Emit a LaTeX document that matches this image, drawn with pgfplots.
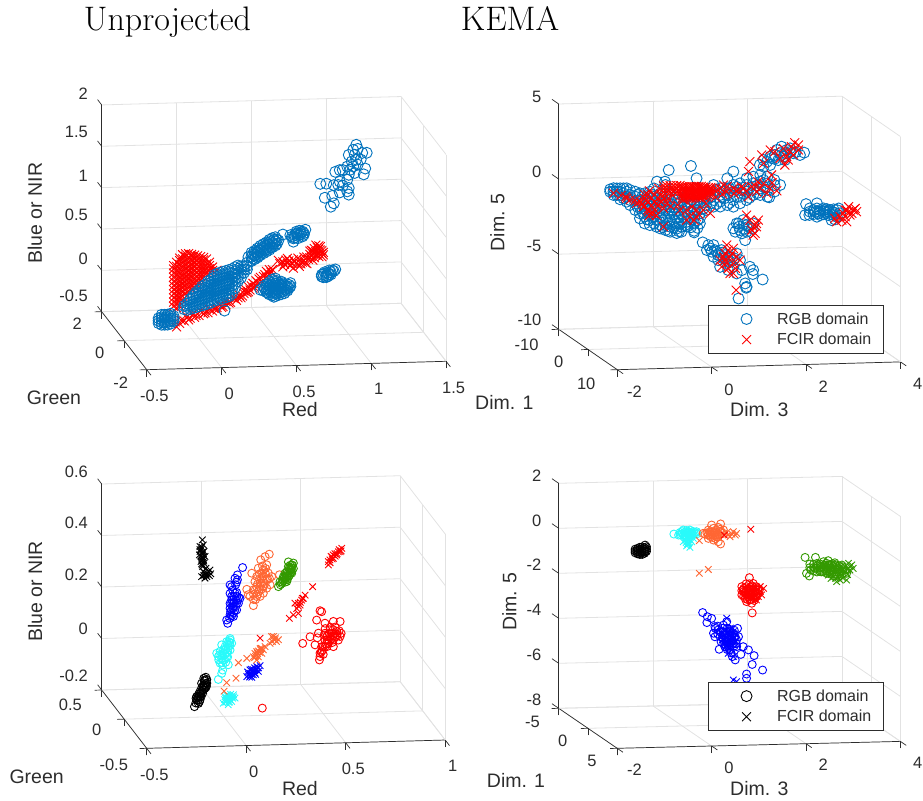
\documentclass[border=0pt]{standalone}
\usepackage{fontspec}
\setsansfont{Liberation Sans}
\usepackage{pgfplots}
\pgfplotsset{compat=1.18}
\definecolor{mblue}{RGB}{0,114,189}
\definecolor{mgrid}{RGB}{226,226,226}
\definecolor{mtxt}{RGB}{45,45,45}
\definecolor{morange}{RGB}{255,102,51}
\definecolor{mgreen}{RGB}{51,153,0}
\definecolor{mcyan}{RGB}{40,250,250}
\pgfplotsset{m3d/.style={clip=false,grid=major,grid style={mgrid,line width=0.8pt},
 axis x line*=bottom,axis y line*=left,axis z line*=left,
 axis line style={mtxt,line width=0.7pt},
 tick style={mtxt,line width=0.7pt},major tick length=7pt,tick align=outside,z tick style={draw=none},
 /pgf/number format/assume math mode=true,
 tick label style={font=\fontsize{16.5}{18}\selectfont\sffamily,text=mtxt},
 label style={font=\fontsize{19.5}{20}\selectfont\sffamily,text=mtxt,anchor=center},
 unbounded coords=jump,
 legend style={font=\fontsize{16}{18}\selectfont\sffamily,text=mtxt,draw=mtxt,line width=0.8pt,anchor=north west,inner xsep=10pt,inner ysep=5pt,row sep=3.5pt,legend cell align=left},
 legend image code/.code={\path (0pt,0pt) (56pt,0pt);\draw[mark repeat=2,mark phase=2,##1] plot coordinates {(15pt,0pt)(28pt,0pt)(40pt,0pt)};}
 },
 ax/.style={forget plot,mtxt,line width=0.7pt,no markers},
 oA/.style={only marks,mark=o,mark size=5.5pt,line width=0.9pt,forget plot},
 xA/.style={only marks,mark=x,mark size=6.3pt,line width=0.9pt,forget plot},
 oB/.style={only marks,mark=o,mark size=4pt,line width=0.9pt,forget plot},
 xB/.style={only marks,mark=x,mark size=4.6pt,line width=0.9pt,forget plot}}
\begin{document}
\begin{tikzpicture}[x=1pt,y=1pt]
\path[use as bounding box] (0,0) rectangle (923,800);
\node[font=\fontsize{34}{36}\selectfont,anchor=base] at (167.5,769) {Unprojected};
\node[font=\fontsize{34}{36}\selectfont,anchor=base] at (510,769) {KEMA};
% ---------- top left
\begin{axis}[m3d,at={(199.05pt,502.75pt)},anchor=origin,
 x={(149.7pt,4.2pt)},y={(-11.25pt,14.5pt)},z={(0pt,82.7pt)},
 xmin=-0.5,xmax=1.5,ymin=-2,ymax=2,zmin=-0.5,zmax=2,
 xtick={-0.5,0,0.5,1,1.5},ytick={-2,0,2},ztick={-0.5,0,0.5,1,1.5,2},
 xticklabel style={yshift=-11pt},yticklabel style={xshift=-9pt,yshift=-3pt},zticklabel style={xshift=-6pt,yshift=2pt},
 xlabel={Red},ylabel={Green},zlabel={Blue or NIR},
 x label style={at={(axis cs:0.674,0,-1.398)}},
 y label style={at={(axis cs:-0.969,0,-1.161)}},
 z label style={at={(axis cs:-1.096,0,1.071)}}]
\addplot3[ax] coordinates {(-0.5,2,-0.5)(-0.5,2,2)};
\addplot3[ax] coordinates {(-0.5,2,-0.5)(-0.5,2.37,-0.5)(nan,nan,nan)(-0.5,2,0)(-0.5,2.37,0)(nan,nan,nan)(-0.5,2,0.5)(-0.5,2.37,0.5)(nan,nan,nan)(-0.5,2,1)(-0.5,2.37,1)(nan,nan,nan)(-0.5,2,1.5)(-0.5,2.37,1.5)(nan,nan,nan)(-0.5,2,2)(-0.5,2.37,2)};
\addplot3[xA,red] coordinates {
(-0.17,0,-0.10)(-0.17,0,-0.05)(-0.17,0,0)(-0.17,0,0.05)(-0.17,0,0.1)(-0.17,0,0.15)(-0.17,0,0.2)(-0.17,0,0.25)(-0.17,0,0.3)(-0.17,0,0.35)(-0.17,0,0.39)
(-0.15,0,-0.12)(-0.15,0,-0.07)(-0.15,0,-0.02)(-0.15,0,0.03)(-0.15,0,0.08)(-0.15,0,0.13)(-0.15,0,0.18)(-0.15,0,0.23)(-0.15,0,0.28)(-0.15,0,0.33)(-0.15,0,0.38)(-0.15,0,0.43)
(-0.13,0,-0.1)(-0.13,0,-0.05)(-0.13,0,0)(-0.13,0,0.05)(-0.13,0,0.1)(-0.13,0,0.15)(-0.13,0,0.2)(-0.13,0,0.25)(-0.13,0,0.3)(-0.13,0,0.35)(-0.13,0,0.4)(-0.13,0,0.45)(-0.13,0,0.48)
(-0.11,0,-0.03)(-0.11,0,0.02)(-0.11,0,0.07)(-0.11,0,0.12)(-0.11,0,0.17)(-0.11,0,0.22)(-0.11,0,0.27)(-0.11,0,0.32)(-0.11,0,0.37)(-0.11,0,0.42)(-0.11,0,0.47)(-0.11,0,0.52)
(-0.09,0,0.05)(-0.09,0,0.1)(-0.09,0,0.15)(-0.09,0,0.2)(-0.09,0,0.25)(-0.09,0,0.3)(-0.09,0,0.35)(-0.09,0,0.4)(-0.09,0,0.45)(-0.09,0,0.5)(-0.09,0,0.53)
(-0.07,0,0.08)(-0.07,0,0.13)(-0.07,0,0.18)(-0.07,0,0.23)(-0.07,0,0.28)(-0.07,0,0.33)(-0.07,0,0.38)(-0.07,0,0.43)(-0.07,0,0.48)(-0.07,0,0.53)
(-0.05,0,0.1)(-0.05,0,0.15)(-0.05,0,0.2)(-0.05,0,0.25)(-0.05,0,0.3)(-0.05,0,0.35)(-0.05,0,0.4)(-0.05,0,0.45)(-0.05,0,0.5)(-0.05,0,0.52)
(-0.03,0,0.12)(-0.03,0,0.17)(-0.03,0,0.22)(-0.03,0,0.27)(-0.03,0,0.32)(-0.03,0,0.37)(-0.03,0,0.42)(-0.03,0,0.47)(-0.03,0,0.51)
(-0.01,0,0.15)(-0.01,0,0.2)(-0.01,0,0.25)(-0.01,0,0.3)(-0.01,0,0.35)(-0.01,0,0.4)(-0.01,0,0.45)(-0.01,0,0.5)
(0.01,0,0.2)(0.01,0,0.25)(0.01,0,0.3)(0.01,0,0.35)(0.01,0,0.4)(0.01,0,0.45)(0.01,0,0.49)
(0.03,0,0.25)(0.03,0,0.3)(0.03,0,0.35)(0.03,0,0.4)(0.03,0,0.45)(0.03,0,0.48)
(0.05,0,0.3)(0.05,0,0.35)(0.05,0,0.4)(0.05,0,0.46)(0.07,0,0.3)(0.07,0,0.34)(0.07,0,0.38)(0.07,0,0.42)(0.09,0,0.32)(0.09,0,0.36)(0.12,0,0.32)
(-0.16,0,-0.29)(-0.15,0,-0.35)(-0.12,0,-0.27)(-0.08,0,-0.23)(-0.04,0,-0.2)(-0.06,0,-0.25)(-0.02,0,-0.22)(0.01,0,-0.17)(0.04,0,-0.19)(0.07,0,-0.15)(0.10,0,-0.14)(0.12,0,-0.16)(0.14,0,-0.1)(0.16,0,-0.12)(0.18,0,-0.06)(0.2,0,-0.08)(0.23,0,-0.02)(0.25,0,-0.05)(0.27,0,0.01)(0.28,0,-0.02)(0.3,0,0.03)(0.31,0,0.08)(0.32,0,0.04)(0.33,0,0.11)(0.34,0,0.07)(0.36,0,0.15)(0.36,0,0.09)(0.38,0,0.12)(0.38,0,0.18)(0.4,0,0.2)(0.4,0,0.14)(0.42,0,0.17)(0.43,0,0.23)(0.45,0,0.29)(0.45,0,0.22)(0.47,0,0.31)(0.47,0,0.25)(0.49,0,0.31)
(0.53,0,0.42)(0.56,0,0.34)(0.56,0,0.4)(0.59,0,0.38)(0.59,0,0.44)(0.61,0,0.35)(0.63,0,0.42)(0.63,0,0.32)(0.65,0,0.38)(0.67,0,0.34)(0.67,0,0.42)(0.69,0,0.39)(0.7,0,0.45)(0.72,0,0.37)(0.72,0,0.45)(0.74,0,0.52)(0.74,0,0.44)(0.76,0,0.41)(0.76,0,0.49)(0.78,0,0.59)(0.78,0,0.51)(0.79,0,0.47)(0.8,0,0.45)(0.8,0,0.54)(0.81,0,0.53)(0.81,0,0.57)(0.82,0,0.45)(0.82,0,0.49)(0.77,0,0.55)(0.74,0,0.48)
(-0.13,0,-0.31)(-0.1,0,-0.28)(-0.07,0,-0.27)(-0.03,0,-0.24)(0,0,-0.22)(0.03,0,-0.2)(0.06,0,-0.19)(0.09,0,-0.17)(0.12,0,-0.13)(0.15,0,-0.13)(0.18,0,-0.1)(0.21,0,-0.07)(0.24,0,-0.03)(0.26,0,-0.02)(0.29,0,0)(0.3,0,0.06)(0.33,0,0.05)(0.35,0,0.12)(0.37,0,0.1)(0.39,0,0.16)(0.41,0,0.22)(0.44,0,0.25)(0.46,0,0.27)(0.48,0,0.28)
(0.54,0,0.38)(0.57,0,0.37)(0.58,0,0.42)(0.6,0,0.41)(0.62,0,0.38)(0.64,0,0.4)(0.66,0,0.44)(0.66,0,0.36)(0.68,0,0.37)(0.7,0,0.41)(0.71,0,0.38)(0.73,0,0.42)(0.75,0,0.46)(0.77,0,0.44)(0.75,0,0.53)(0.77,0,0.5)(0.78,0,0.47)(0.79,0,0.52)(0.8,0,0.49)(0.8,0,0.58)(0.79,0,0.56)(0.82,0,0.52)(0.83,0,0.5)(0.83,0,0.47)(0.76,0,0.52)};
\addplot3[oA,mblue] coordinates {
(1.05,0,1.79)(1.03,0,1.73)(1.06,0,1.74)(1.12,0,1.69)(1.09,0,1.69)(1.04,0,1.67)(1,0,1.67)(1.05,0,1.61)(1.02,0,1.59)(1.08,0,1.61)(0.99,0,1.53)(1.03,0,1.53)(1.06,0,1.55)(1.1,0,1.43)(1.11,0,1.5)(1.04,0,1.45)(1.01,0,1.49)(0.96,0,1.49)(0.94,0,1.49)(0.91,0,1.47)(1,0,1.43)(0.94,0,1.35)(0.99,0,1.37)(0.96,0,1.3)(1,0,1.27)(0.93,0,1.31)(1,0,1.19)(0.99,0,1.23)(0.94,0,1.22)(0.81,0,1.33)(0.85,0,1.33)(0.9,0,1.31)(0.84,0,1.16)(0.89,0,1.18)(0.9,0,1.09)(0.88,0,1.05)
(0.82,0,0.21)(0.83,0,0.24)(0.85,0,0.22)(0.84,0,0.26)(0.86,0,0.25)(0.87,0,0.23)(0.88,0,0.26)(0.89,0,0.28)(0.9,0,0.27)(0.91,0,0.29)(0.87,0,0.28)(0.85,0,0.2)(0.83,0,0.2)(0.86,0,0.21)(0.88,0,0.23)(0.82,0,0.23)
(0.71,0,0.78)(0.69,0,0.76)(0.65,0,0.74)(0.63,0,0.68)(0.64,0,0.72)(0.67,0,0.72)(0.7,0,0.74)(0.66,0,0.68)(0.69,0,0.7)(0.63,0,0.64)(0.61,0,0.72)(0.56,0,0.73)(0.65,0,0.76)(0.67,0,0.77)(0.62,0,0.7)(0.66,0,0.71)(0.68,0,0.73)(0.66,0,0.74)(0.64,0,0.69)(0.68,0,0.75)(0.7,0,0.72)
(0.33,0,0.47)(0.35,0,0.42)(0.35,0,0.47)(0.35,0,0.52)(0.37,0,0.44)(0.37,0,0.49)(0.37,0,0.54)(0.39,0,0.46)(0.39,0,0.52)(0.39,0,0.57)(0.41,0,0.49)(0.41,0,0.54)(0.41,0,0.6)(0.43,0,0.51)(0.43,0,0.56)(0.43,0,0.62)(0.45,0,0.53)(0.45,0,0.58)(0.45,0,0.64)(0.47,0,0.55)(0.47,0,0.61)(0.47,0,0.67)(0.49,0,0.58)(0.49,0,0.63)(0.49,0,0.69)(0.51,0,0.6)(0.51,0,0.65)(0.51,0,0.7)(0.52,0,0.62)(0.52,0,0.67)(0.53,0,0.66)(0.36,0,0.45)(0.36,0,0.5)(0.38,0,0.47)(0.38,0,0.53)(0.4,0,0.48)(0.4,0,0.55)(0.42,0,0.52)(0.42,0,0.58)(0.44,0,0.54)(0.44,0,0.6)(0.46,0,0.56)(0.46,0,0.63)(0.48,0,0.58)(0.48,0,0.65)(0.5,0,0.62)(0.5,0,0.67)
(0.41,0,0.07)(0.45,0,0.09)(0.45,0,0.04)(0.45,0,0.13)(0.47,0,0.01)(0.47,0,0.06)(0.47,0,0.11)(0.47,0,0.16)(0.49,0,0)(0.49,0,0.05)(0.49,0,0.1)(0.49,0,0.15)(0.49,0,0.19)(0.51,0,-0.01)(0.51,0,0.04)(0.51,0,0.09)(0.51,0,0.14)(0.51,0,0.2)(0.53,0,0)(0.53,0,0.05)(0.53,0,0.1)(0.53,0,0.15)(0.55,0,0.01)(0.55,0,0.06)(0.55,0,0.11)(0.55,0,0.16)(0.57,0,0.02)(0.57,0,0.07)(0.57,0,0.12)(0.59,0,0.05)(0.59,0,0.1)(0.61,0,0.1)(0.61,0,0.14)(0.43,0,0.06)(0.43,0,0.11)(0.5,0,-0.02)
(0.44,0,0.08)(0.46,0,0.08)(0.46,0,0.03)(0.46,0,0.13)(0.48,0,0.03)(0.48,0,0.08)(0.48,0,0.13)(0.5,0,0.03)(0.5,0,0.08)(0.5,0,0.12)(0.5,0,0.17)(0.52,0,0.02)(0.52,0,0.07)(0.52,0,0.12)(0.52,0,0.17)(0.54,0,0.03)(0.54,0,0.08)(0.54,0,0.13)(0.56,0,0.04)(0.56,0,0.09)(0.56,0,0.14)(0.58,0,0.06)(0.58,0,0.11)(0.6,0,0.08)(0.6,0,0.12)
(-0.27,0,-0.3)(-0.27,0,-0.27)(-0.27,0,-0.24)(-0.25,0,-0.32)(-0.25,0,-0.29)(-0.25,0,-0.26)(-0.25,0,-0.23)(-0.25,0,-0.2)(-0.23,0,-0.32)(-0.23,0,-0.29)(-0.23,0,-0.26)(-0.23,0,-0.23)(-0.23,0,-0.2)(-0.21,0,-0.32)(-0.21,0,-0.29)(-0.21,0,-0.26)(-0.21,0,-0.23)(-0.21,0,-0.2)(-0.19,0,-0.31)(-0.19,0,-0.28)(-0.19,0,-0.25)(-0.19,0,-0.22)(-0.19,0,-0.19)(-0.17,0,-0.28)(-0.17,0,-0.25)(-0.17,0,-0.22)
(-0.1,0,-0.14)(-0.1,0,-0.1)(-0.08,0,-0.15)(-0.08,0,-0.11)(-0.08,0,-0.07)(-0.06,0,-0.14)(-0.06,0,-0.1)(-0.06,0,-0.06)(-0.06,0,-0.02)(-0.04,0,-0.13)(-0.04,0,-0.09)(-0.04,0,-0.05)(-0.04,0,-0.01)(-0.04,0,0.02)(-0.02,0,-0.12)(-0.02,0,-0.08)(-0.02,0,-0.04)(-0.02,0,0)(-0.02,0,0.04)(-0.02,0,0.06)
(0,0,-0.11)(0,0,-0.07)(0,0,-0.03)(0,0,0.01)(0,0,0.05)(0,0,0.09)(0.02,0,-0.1)(0.02,0,-0.06)(0.02,0,-0.02)(0.02,0,0.02)(0.02,0,0.06)(0.02,0,0.1)(0.02,0,0.13)(0.04,0,-0.09)(0.04,0,-0.05)(0.04,0,-0.01)(0.04,0,0.03)(0.04,0,0.07)(0.04,0,0.11)(0.04,0,0.15)
(0.06,0,-0.08)(0.06,0,-0.04)(0.06,0,0)(0.06,0,0.04)(0.06,0,0.08)(0.06,0,0.12)(0.06,0,0.16)(0.06,0,0.19)(0.08,0,-0.07)(0.08,0,-0.03)(0.08,0,0.01)(0.08,0,0.05)(0.08,0,0.09)(0.08,0,0.13)(0.08,0,0.17)(0.08,0,0.21)
(0.1,0,-0.05)(0.1,0,-0.01)(0.1,0,0.03)(0.1,0,0.07)(0.1,0,0.11)(0.1,0,0.15)(0.1,0,0.19)(0.1,0,0.23)(0.1,0,0.26)(0.12,0,-0.04)(0.12,0,0)(0.12,0,0.04)(0.12,0,0.08)(0.12,0,0.12)(0.12,0,0.16)(0.12,0,0.2)(0.12,0,0.24)(0.12,0,0.28)
(0.14,0,-0.03)(0.14,0,0.01)(0.14,0,0.05)(0.14,0,0.09)(0.14,0,0.13)(0.14,0,0.17)(0.14,0,0.21)(0.14,0,0.25)(0.14,0,0.29)(0.16,0,-0.02)(0.16,0,0.02)(0.16,0,0.06)(0.16,0,0.1)(0.16,0,0.14)(0.16,0,0.18)(0.16,0,0.22)(0.16,0,0.26)(0.16,0,0.3)
(0.18,0,-0.01)(0.18,0,0.03)(0.18,0,0.07)(0.18,0,0.11)(0.18,0,0.15)(0.18,0,0.19)(0.18,0,0.23)(0.18,0,0.27)(0.18,0,0.31)(0.2,0,0)(0.2,0,0.04)(0.2,0,0.08)(0.2,0,0.12)(0.2,0,0.16)(0.2,0,0.2)(0.2,0,0.24)(0.2,0,0.28)(0.2,0,0.32)
(0.22,0,0.03)(0.22,0,0.08)(0.22,0,0.13)(0.22,0,0.18)(0.22,0,0.23)(0.22,0,0.28)(0.22,0,0.33)(0.24,0,0.1)(0.24,0,0.15)(0.24,0,0.2)(0.24,0,0.25)(0.24,0,0.3)(0.24,0,0.35)(0.26,0,0.18)(0.26,0,0.23)(0.26,0,0.28)(0.26,0,0.33)(0.26,0,0.37)(0.28,0,0.22)(0.28,0,0.27)(0.28,0,0.32)(0.28,0,0.36)(0.3,0,0.28)(0.3,0,0.32)(0.3,0,0.36)(0.32,0,0.32)(0.32,0,0.36)(0.32,0,0.4)(0.17,0,-0.17)};
\end{axis}
% ---------- top right
\begin{axis}[m3d,at={(682.4pt,603.3pt)},anchor=origin,
 y dir=reverse,x={(47.2pt,1.3pt)},y={(-2.93pt,2.02pt)},z={(0pt,15.02pt)},
 xmin=-2,xmax=4,ymin=-10,ymax=10,zmin=-10,zmax=5,
 xtick={-2,0,2,4},ytick={-10,0,10},ztick={-10,-5,0,5},
 xticklabel style={xshift=6.5pt,yshift=-9pt},yticklabel style={xshift=-13.5pt,yshift=-3.5pt},zticklabel style={xshift=-8pt,yshift=1pt},
 xlabel={Dim. 3},ylabel={Dim. 1},zlabel={Dim. 5},
 x label style={at={(axis cs:1.629,0,-14.34)}},
 y label style={at={(axis cs:-3.773,0,-13.36)}},
 z label style={at={(axis cs:-3.922,0,-1.365)}},
 legend style={at={(axis cs:0.536,0,-7.26)}}]
\addplot3[ax] coordinates {(-2,-10,-10)(-2,-10,5)};
\addplot3[ax] coordinates {(-2,-10,-10)(-2,-12.3,-10)(nan,nan,nan)(-2,-10,-5)(-2,-12.3,-5)(nan,nan,nan)(-2,-10,0)(-2,-12.3,0)(nan,nan,nan)(-2,-10,5)(-2,-12.3,5)};
\addplot3[oA,mblue] coordinates {
(2.78,0,-1.13)(2.85,0,-1.03)(2.92,0,-1.14)(2.99,0,-1.04)(3.06,0,-1.09)(3.13,0,-1.16)(3.2,0,-1.12)(3.27,0,-1.17)(3.31,0,-1.07)(2.88,0,-1.36)(2.99,0,-1.42)(3.09,0,-1.49)(3.2,0,-1.5)(3.27,0,-1.62)(3.34,0,-1.4)(3.16,0,-1.83)(3.23,0,-1.79)(2.78,0,-1.4)(2.7,0,-1.23)(2.92,0,-1.48)(3.02,0,-1.26)(3.13,0,-1.43)(3.23,0,-1.35)(2.85,0,-1.58)(2.62,0,-0.72)(2.85,0,-0.69)(2.69,0,-1.45)(2.7,0,-1.01)(2.6,0,-1.45)(2.9,0,-1.25)(3,0,-1.15)(3.1,0,-1.25)(3.18,0,-1.3)(2.82,0,-1.25)(3.05,0,-1.35)
(1.72,0,2.29)(1.86,0,2.51)(2,0,2.94)(2.1,0,3.15)(2.21,0,2.92)(2.35,0,2.69)(2.49,0,2.56)(2.58,0,2.71)(1.89,0,2.4)(2.14,0,2.48)(1.72,0,1.85)(1.86,0,1.95)(1.96,0,2.61)(2.07,0,2.71)(2.28,0,3.02)(2.03,0,2.26)(2.17,0,2.25)(1.79,0,2.17)(1.64,0,1.97)(2.2,0,2.7)(2.3,0,2.8)(2.4,0,2.75)(2.1,0,2.6)(1.95,0,2.35)
(-1.53,0,0.62)(-1.53,0,0.46)(-1.46,0,0.69)(-1.46,0,0.46)(-1.46,0,0.24)(-1.39,0,0.67)(-1.39,0,0.45)(-1.39,0,0.23)(-1.32,0,0.67)(-1.32,0,0.44)(-1.32,0,0.22)(-1.32,0,-0.06)(-1.25,0,0.66)(-1.25,0,0.33)(-1.25,0,0)(-1.18,0,0.66)(-1.18,0,0.44)(-1.18,0,0.1)(-1.18,0,-0.23)(-1.11,0,0.54)(-1.11,0,0.21)(-1.11,0,-0.13)(-1.11,0,-0.46)(-1,0,0.42)(-1,0,0.09)(-1,0,-0.36)(-1,0,-0.8)(-0.9,0,0.3)(-0.9,0,-0.14)(-0.9,0,-0.59)(-0.9,0,-1.03)(-0.9,0,-1.37)(-0.8,0,0.29)(-0.8,0,-0.15)(-0.8,0,-0.71)(-0.8,0,-1.26)(-0.8,0,-1.71)(-0.69,0,0.39)(-0.69,0,-0.05)(-0.69,0,-0.61)(-0.69,0,-1.05)(-0.69,0,-1.5)(-0.69,0,-1.83)(-0.6,0,0.6)(-0.6,0,0.05)(-0.6,0,-0.39)(-0.6,0,-0.84)(-0.6,0,-1.28)(-0.6,0,-1.73)(-0.47,0,0.26)(-0.47,0,-0.18)(-0.47,0,-0.74)(-0.47,0,-1.29)(-0.47,0,-1.84)(-0.47,0,-2.07)(-0.36,0,0.81)(-0.36,0,0.25)(-0.36,0,-0.3)(-0.36,0,-0.86)(-0.36,0,-1.41)(-0.36,0,-1.86)(-0.36,0,-2.19)(-0.26,0,0.24)(-0.26,0,-0.2)(-0.26,0,-0.65)(-0.26,0,-1.09)(-0.26,0,-1.53)(-0.26,0,-1.98)(-0.26,0,-2.31)(-0.12,0,-0.01)(-0.12,0,-0.45)(-0.12,0,-0.9)(-0.12,0,-1.34)(-0.12,0,-1.79)(-0.12,0,-2.12)(-0.12,0,-2.41)(-0.02,0,-0.22)(-0.02,0,-0.67)(-0.02,0,-1.11)(-0.02,0,-1.56)(-0.02,0,-2)(-0.02,0,-2.33)(0.1,0,0.1)(0.1,0,-0.34)(0.1,0,-0.78)(0.1,0,-1.23)(0.1,0,-1.67)(0.1,0,-2)(0.25,0,-0.02)(0.25,0,-0.46)(0.25,0,-0.91)(0.25,0,-1.36)(0.25,0,-1.8)(0.25,0,-2.29)(0.25,0,-2.4)(0.37,0,0.19)(0.37,0,-0.25)(0.37,0,-0.7)(0.37,0,-1.14)(0.37,0,-1.47)(0.37,0,-1.81)(0.5,0,0.29)(0.5,0,-0.15)(0.5,0,-0.6)(0.5,0,-0.93)(0.66,0,0.72)(0.66,0,0.16)(0.66,0,-0.28)(0.66,0,-0.72)(0.8,0,0.49)(0.8,0,0.04)(0.8,0,-0.4)(0.8,0,-0.73)(0.95,0,1.14)(0.95,0,0.47)(0.95,0,0.03)(0.95,0,-0.64)(1.08,0,1.58)(1.08,0,0.69)(1.08,0,0.24)(1.08,0,-0.31)(1.08,0,-0.76)(1.22,0,0.78)(1.22,0,0.34)(1.22,0,-0.11)(1.22,0,-0.55)(1.36,0,1.1)(1.36,0,0.66)(1.36,0,0.22)(1.36,0,-0.34)(1.5,0,1.2)(1.5,0,0.76)(1.5,0,0.31)(1.5,0,-0.02)(1.65,0,1.3)(1.65,0,0.86)(1.65,0,0.41)(1.65,0,-0.03)(1.8,0,1.17)(1.8,0,0.73)(1.8,0,0.29)(1.8,0,-0.16)(1.95,0,0.94)(1.95,0,0.61)(1.95,0,0.17)(2.07,0,0.6)(1.84,0,-0.2)
(-0.95,0,0.2)(-0.95,0,-0.2)(-0.95,0,-0.6)(-0.85,0,0.1)(-0.85,0,-0.4)(-0.85,0,-0.95)(-0.75,0,0.1)(-0.75,0,-0.4)(-0.75,0,-0.95)(-0.75,0,-1.45)(-0.65,0,0.2)(-0.65,0,-0.25)(-0.65,0,-0.8)(-0.65,0,-1.3)(-0.55,0,-0.1)(-0.55,0,-0.55)(-0.55,0,-1.05)(-0.55,0,-1.5)(-0.55,0,-1.95)(-0.42,0,0)(-0.42,0,-0.5)(-0.42,0,-1)(-0.42,0,-1.55)(-0.42,0,-2)(-0.3,0,0)(-0.3,0,-0.45)(-0.3,0,-0.9)(-0.3,0,-1.3)(-0.3,0,-1.75)(-0.3,0,-2.25)(-0.18,0,-0.2)(-0.18,0,-0.7)(-0.18,0,-1.15)(-0.18,0,-1.6)(-0.18,0,-2.05)(-0.07,0,-0.4)(-0.07,0,-0.9)(-0.07,0,-1.35)(-0.07,0,-1.8)(-0.07,0,-2.3)(0.05,0,-0.1)(0.05,0,-0.55)(0.05,0,-1)(0.05,0,-1.45)(0.05,0,-1.9)(0.18,0,-0.2)(0.18,0,-0.6)(0.18,0,-1.1)(0.18,0,-1.55)(0.18,0,-2.05)(0.32,0,-0.45)(0.32,0,-0.95)(0.32,0,-1.6)(0.32,0,-2.1)(0.45,0,-0.4)(0.45,0,-0.8)(0.6,0,-0.5)(0.6,0,-0.1)(0.72,0,-0.55)(0.72,0,0.4)(0.88,0,-0.2)(0.88,0,0.25)(1,0,-0.5)(1,0,0.45)(1.15,0,-0.1)(1.15,0,0.55)(1.3,0,0.1)(1.3,0,0.5)(1.42,0,-0.2)(1.42,0,0.45)(1.58,0,0.1)(1.58,0,0.6)(1.72,0,0.5)(1.72,0,0.95)
(-0.29,0,1.8)(0.18,0,2.03)(-0.54,0,1.05)(-0.37,0,1.03)(0.3,0,1.2)
(1.08,0,-2.2)(1.15,0,-1.88)(1.36,0,-2.01)(1.22,0,-2.33)(1.36,0,-2.45)(1.5,0,-1.91)(1.33,0,-3.01)(1.19,0,-1.89)(1.29,0,-1.67)(1.12,0,-2.43)(1.4,0,-2.12)(1.26,0,-2.55)(1.47,0,-2.24)(1.3,0,-2.25)(1.2,0,-2.1)(1.3,0,-1.95)
(0.43,0,-3.08)(0.55,0,-3.27)(0.66,0,-3.28)(0.52,0,-3.6)(0.69,0,-3.62)(0.59,0,-3.5)(0.76,0,-3.96)(0.87,0,-4.19)(1.01,0,-4.09)(1.15,0,-3.88)(1.22,0,-4.33)(0.66,0,-4.06)(0.8,0,-4.74)(0.94,0,-4.52)(1.08,0,-4.76)(1.15,0,-5.21)(1.26,0,-5)(1.43,0,-4.79)(1.5,0,-5.02)(1.49,0,-5.28)(1.7,0,-5.66)(1.33,0,-5.89)(1.36,0,-6.12)(1.35,0,-6.18)(1.19,0,-6.88)(0.73,0,-3.73)(0.83,0,-3.63)(0.76,0,-4.29)(1.08,0,-4.32)(0.97,0,-4.97)(0.9,0,-3.97)(0.62,0,-3.72)(0.8,0,-4)(0.95,0,-4.2)(0.85,0,-3.8)(1,0,-4.4)(1.1,0,-4.2)};
\addplot3[xA,red] coordinates {
(3.48,0,-1.19)(3.62,0,-1.2)(3.69,0,-1.32)(3.55,0,-1.53)(3.41,0,-1.4)(3.52,0,-0.97)(3.66,0,-1.1)(3.34,0,-1.62)(3.23,0,-1.72)(3.48,0,-1.97)(3.45,0,-1.63)(3.59,0,-1.42)(3.27,0,-1.95)(3.38,0,-1.85)(3.52,0,-1.31)(3.45,0,-1.19)
(1.43,0,2.21)(1.4,0,1.55)(1.68,0,2.63)(1.86,0,2.95)(1.96,0,2.83)(2.14,0,3.03)(2.38,0,3.39)(2.31,0,3.13)(2.46,0,2.9)(2.21,0,2.48)(2.35,0,2.58)(2.07,0,2.38)(2.17,0,1.92)(1.89,0,1.28)(2.28,0,2.8)(2.46,0,3.23)(2.24,0,2.25)(1.72,0,2.07)
(1.57,0,-1.92)(1.5,0,-2.13)(1.54,0,-2.58)(1.43,0,-1.68)(1.61,0,-1.7)(1.47,0,-2.35)(1.36,0,-1.34)(1.5,0,-2.69)(1.57,0,-2.14)
(0.94,0,-3.3)(1.08,0,-3.54)(0.9,0,-3.86)(1.01,0,-4.09)(0.87,0,-4.08)(1.15,0,-4.1)(0.94,0,-4.52)(0.83,0,-4.74)(1.08,0,-4.54)(1.01,0,-5.2)(1.22,0,-4.33)(0.97,0,-3.64)(1.05,0,-3.87)(0.9,0,-4.3)(1.14,0,-6.32)(0.8,0,-4.29)(0.97,0,-4.86)(1.12,0,-4.87)(1.08,0,-5.2)
(-1.46,0,0.35)(-1.18,0,-0.01)(-0.97,0,-0.36)(-0.83,0,-0.6)(-0.76,0,-0.16)(-0.72,0,-0.94)(-0.61,0,-1.06)(-0.54,0,-0.4)(-0.44,0,0.04)(-0.33,0,-0.41)(-0.33,0,0.36)(-0.19,0,0.57)(0.02,0,-0.22)(0.09,0,-0.9)(0.16,0,-1.35)(0.3,0,-1.36)(0.44,0,-0.93)(0.59,0,-1.16)(-0.4,0,-1.97)(0.09,0,-1.56)
(0,0,0.65)(0,0,0.5)(0,0,0.35)(0,0,0.2)(0,0,0.05)(0,0,-0.1)(0.05,0,0.65)(0.05,0,0.5)(0.05,0,0.35)(0.05,0,0.2)(0.05,0,0.05)(0.05,0,-0.1)(0.1,0,0.65)(0.1,0,0.5)(0.1,0,0.35)(0.1,0,0.2)(0.1,0,0.05)(0.1,0,-0.1)(0.15,0,0.65)(0.15,0,0.5)(0.15,0,0.35)(0.15,0,0.2)(0.15,0,0.05)(0.15,0,-0.1)(0.2,0,0.65)(0.2,0,0.5)(0.2,0,0.35)(0.2,0,0.2)(0.2,0,0.05)(0.2,0,-0.1)(0.25,0,0.65)(0.25,0,0.5)(0.25,0,0.35)(0.25,0,0.2)(0.25,0,0.05)(0.25,0,-0.1)(0.3,0,0.65)(0.3,0,0.5)(0.3,0,0.35)(0.3,0,0.2)(0.3,0,0.05)(0.3,0,-0.1)(0.35,0,0.65)(0.35,0,0.5)(0.35,0,0.35)(0.35,0,0.2)(0.35,0,0.05)(0.35,0,-0.1)(0.4,0,0.65)(0.4,0,0.5)(0.4,0,0.35)(0.4,0,0.2)(0.4,0,0.05)(0.4,0,-0.1)(0.45,0,0.6)(0.45,0,0.45)(0.45,0,0.3)(0.45,0,0.15)(0.45,0,0)(0.5,0,0.6)(0.5,0,0.45)(0.5,0,0.3)(0.5,0,0.15)(0.5,0,0)(0.55,0,0.55)(0.55,0,0.4)(0.55,0,0.25)(0.55,0,0.1)(0.6,0,0.55)(0.6,0,0.4)(0.6,0,0.25)(0.6,0,0.1)
(-0.4,0,0.75)(-0.4,0,0.55)(-0.4,0,0.35)(-0.33,0,0.75)(-0.33,0,0.55)(-0.26,0,0.75)(-0.26,0,0.55)(-0.26,0,0.35)(-0.19,0,0.75)(-0.19,0,0.4)(-0.12,0,0.75)(-0.12,0,0.55)(-0.12,0,0.35)(-0.05,0,0.75)(-0.05,0,0.55)(-0.05,0,0.35)
(0.8,0,0.49)(0.94,0,0.25)(1.08,0,0.46)(1.22,0,0.23)(1.47,0,0.54)(1.57,0,0.2)(1.72,0,0.74)(1.79,0,0.07)(1.4,0,-0.12)(2,0,0.22)(0.87,0,0.7)(1.15,0,0.3)(1.3,0,0.45)(0.7,0,0.3)
(-0.8,0,0.2)(-0.8,0,-0.05)(-0.8,0,-0.55)(-0.73,0,0.2)(-0.73,0,-0.3)(-0.73,0,-0.8)(-0.66,0,-0.05)(-0.66,0,-0.55)(-0.66,0,-1.05)(-0.59,0,0.2)(-0.59,0,-0.3)(-0.59,0,-0.8)(-0.52,0,-0.05)(-0.52,0,-0.55)(-0.45,0,0.2)(-0.45,0,-0.3)(-0.38,0,-0.05)
(-1.3,0,0.2)(-1.2,0,0.1)(-1.1,0,-0.1)(-1,0,-0.15)(-0.9,0,-0.25)(-0.85,0,-0.4)(-0.7,0,-1.2)(-0.55,0,-1.2)(-0.4,0,-0.75)(-0.3,0,-0.1)(-0.25,0,-0.6)(-0.1,0,-0.55)(-0.05,0,-0.9)(0.2,0,-0.7)(0.3,0,-0.9)(0.35,0,-1.2)(0.25,0,-1.6)(0.5,0,-0.5)(0.7,0,-0.1)(0.7,0,0.5)(0.85,0,0.1)(0.95,0,0.6)(1.1,0,0.1)(1.25,0,0.55)(1.35,0,0.25)(1.55,0,0.55)(1.65,0,0.4)(1.85,0,0.4)(1.9,0,0.75)(1.6,0,0.85)(-0.2,0,0.1)(-0.5,0,0.6)(-0.7,0,0.45)
(0.03,0,0.58)(0.13,0,0.58)(0.23,0,0.58)(0.33,0,0.58)(0.08,0,0.28)(0.18,0,0.28)(0.28,0,0.28)(0.38,0,0.28)(0.12,0,0.12)(0.22,0,0.12)(0.32,0,0.12)(0.42,0,0.08)};
\addlegendimage{only marks,mark=o,mark size=5.5pt,line width=0.9pt,mblue}
\addlegendimage{only marks,mark=x,mark size=6.3pt,line width=0.9pt,red}
\legend{RGB domain,FCIR domain}
\end{axis}
% ---------- bottom left
\begin{axis}[m3d,at={(223.7pt,135.1pt)},anchor=origin,
 x={(199pt,5.53pt)},y={(-45pt,58.3pt)},z={(0pt,257.5pt)},
 xmin=-0.5,xmax=1,ymin=-0.5,ymax=0.5,zmin=-0.2,zmax=0.6,
 xtick={-0.5,0,0.5,1},ytick={-0.5,0,0.5},ztick={-0.2,0,0.2,0.4,0.6},
 xticklabel style={yshift=-11pt},yticklabel style={xshift=-12pt,yshift=-2pt},zticklabel style={xshift=-6pt},
 xlabel={Red},ylabel={Green},zlabel={Blue or NIR},
 x label style={at={(axis cs:0.383,0,-0.487)}},
 y label style={at={(axis cs:-0.94,0,-0.414)}},
 z label style={at={(axis cs:-0.948,0,0.305)}}]
\addplot3[ax] coordinates {(-0.5,0.5,-0.2)(-0.5,0.5,0.6)};
\addplot3[ax] coordinates {(-0.5,0.5,-0.2)(-0.5,0.59,-0.2)(nan,nan,nan)(-0.5,0.5,0)(-0.5,0.59,0)(nan,nan,nan)(-0.5,0.5,0.2)(-0.5,0.59,0.2)(nan,nan,nan)(-0.5,0.5,0.4)(-0.5,0.59,0.4)(nan,nan,nan)(-0.5,0.5,0.6)(-0.5,0.59,0.6)};
\addplot3[oB,black] coordinates {(-0.147,0,-0.159)(-0.136,0,-0.133)(-0.127,0,-0.12)(-0.136,0,-0.12)(-0.119,0,-0.101)(-0.111,0,-0.088)(-0.099,0,-0.075)(-0.094,0,-0.056)(-0.085,0,-0.069)(-0.106,0,-0.108)(-0.122,0,-0.14)(-0.102,0,-0.095)(-0.119,0,-0.133)(-0.09,0,-0.046)(-0.127,0,-0.147)(-0.114,0,-0.121)(-0.089,0,-0.085)(-0.111,0,-0.069)(-0.139,0,-0.127)(-0.098,0,-0.06)(-0.14,0,-0.145)(-0.13,0,-0.135)(-0.125,0,-0.11)(-0.115,0,-0.11)(-0.11,0,-0.1)(-0.1,0,-0.085)(-0.095,0,-0.075)(-0.09,0,-0.07)(-0.085,0,-0.055)(-0.105,0,-0.08)(-0.13,0,-0.125)(-0.12,0,-0.12)(-0.095,0,-0.09)(-0.087,0,-0.08)(-0.1,0,-0.05)};
\addplot3[xB,black] coordinates {(-0.107,0,0.488)(-0.119,0,0.462)(-0.102,0,0.468)(-0.119,0,0.443)(-0.099,0,0.443)(-0.11,0,0.423)(-0.122,0,0.43)(-0.094,0,0.423)(-0.114,0,0.404)(-0.099,0,0.397)(-0.106,0,0.384)(-0.089,0,0.377)(-0.077,0,0.364)(-0.069,0,0.37)(-0.102,0,0.364)(-0.111,0,0.345)(-0.089,0,0.352)(-0.072,0,0.348)(-0.094,0,0.339)(-0.065,0,0.355)(-0.119,0,0.45)(-0.107,0,0.433)(-0.102,0,0.412)(-0.111,0,0.395)(-0.11,0,0.46)(-0.113,0,0.45)(-0.105,0,0.44)(-0.115,0,0.425)(-0.105,0,0.42)(-0.11,0,0.41)(-0.1,0,0.405)(-0.108,0,0.39)(-0.095,0,0.36)(-0.08,0,0.355)(-0.085,0,0.345)(-0.1,0,0.35)};
\addplot3[oB,blue] coordinates {(0.095,0,0.376)(0.069,0,0.348)(0.057,0,0.335)(0.04,0,0.303)(0.032,0,0.277)(0.049,0,0.252)(0.065,0,0.265)(0.074,0,0.238)(0.032,0,0.238)(0.049,0,0.226)(0.04,0,0.213)(0.032,0,0.194)(0.02,0,0.161)(0.015,0,0.174)(0.057,0,0.277)(0.082,0,0.257)(0.032,0,0.31)(0.069,0,0.329)(0.049,0,0.187)(0.065,0,0.212)(0.04,0,0.252)(0.065,0,0.238)(0.049,0,0.238)(0.032,0,0.219)(0.05,0,0.265)(0.04,0,0.265)(0.06,0,0.25)(0.05,0,0.24)(0.06,0,0.225)(0.04,0,0.24)(0.045,0,0.22)(0.035,0,0.205)(0.055,0,0.21)(0.07,0,0.25)(0.075,0,0.26)(0.065,0,0.28)(0.05,0,0.2)(0.04,0,0.19)(0.03,0,0.18)(0.06,0,0.31)(0.065,0,0.32)(0.045,0,0.29)};
\addplot3[xB,blue] coordinates {(0.116,0,-0.048)(0.132,0,-0.035)(0.149,0,-0.022)(0.166,0,-0.01)(0.183,0,-0.007)(0.141,0,-0.051)(0.157,0,-0.035)(0.174,0,-0.029)(0.149,0,-0.042)(0.132,0,-0.022)(0.162,0,-0.023)(0.141,0,-0.029)(0.125,0,-0.04)(0.13,0,-0.05)(0.14,0,-0.04)(0.145,0,-0.03)(0.155,0,-0.025)(0.165,0,-0.02)(0.17,0,-0.015)(0.15,0,-0.03)(0.16,0,-0.04)(0.14,0,-0.02)(0.12,0,-0.03)(0.175,0,-0.015)(0.135,0,-0.045)(0.155,0,-0.015)};
\addplot3[oB,mcyan] coordinates {(0.032,0,0.102)(0.015,0,0.09)(0.04,0,0.083)(0.007,0,0.071)(0.023,0,0.064)(-0.018,0,0.053)(-0.002,0,0.045)(0.015,0,0.045)(0.032,0,0.057)(-0.027,0,0.033)(-0.002,0,0.019)(0.015,0,0.032)(-0.018,0,0.007)(-0.005,0,-0.02)(0.023,0,0)(-0.027,0,-0.056)(-0.01,0,-0.033)(0.032,0,0.096)(0.007,0,0.058)(-0.035,0,0.046)(-0.01,0,0.078)(0.02,0,0.08)(0.03,0,0.075)(0.025,0,0.09)(0.01,0,0.06)(0.02,0,0.05)(0,0,0.06)(0.005,0,0.04)(-0.01,0,0.04)(-0.02,0,0.04)(-0.01,0,0.025)(-0.025,0,0.02)(0.005,0,0.02)(-0.01,0,0.01)(-0.005,0,0)(0.01,0,0.01)(0.03,0,0.085)(0.02,0,0.03)};
\addplot3[xB,mcyan] coordinates {(-0.002,0,-0.149)(0.015,0,-0.136)(0.032,0,-0.123)(0.049,0,-0.117)(0.007,0,-0.123)(0.04,0,-0.143)(0.023,0,-0.155)(0.057,0,-0.13)(0.015,0,-0.117)(0.032,0,-0.136)(0.01,0,-0.13)(0.02,0,-0.13)(0.025,0,-0.125)(0.03,0,-0.13)(0.04,0,-0.125)(0.045,0,-0.13)(0.025,0,-0.145)(0.01,0,-0.145)(0.005,0,-0.135)(0.035,0,-0.115)(0.05,0,-0.125)(0.02,0,-0.12)(0.03,0,-0.145)};
\addplot3[oB,morange] coordinates {(0.229,0,0.425)(0.208,0,0.416)(0.186,0,0.404)(0.216,0,0.384)(0.141,0,0.353)(0.28,0,0.344)(0.116,0,0.291)(0.216,0,0.326)(0.199,0,0.365)(0.166,0,0.34)(0.183,0,0.313)(0.149,0,0.288)(0.132,0,0.263)(0.149,0,0.227)(0.166,0,0.262)(0.199,0,0.274)(0.216,0,0.293)(0.241,0,0.338)(0.191,0,0.352)(0.166,0,0.3)(0.183,0,0.262)(0.157,0,0.32)(0.208,0,0.312)(0.233,0,0.306)(0.174,0,0.372)(0.124,0,0.27)(0.149,0,0.251)(0.199,0,0.301)(0.191,0,0.332)(0.174,0,0.281)(0.224,0,0.352)(0.18,0,0.35)(0.2,0,0.34)(0.21,0,0.35)(0.22,0,0.33)(0.2,0,0.32)(0.19,0,0.31)(0.18,0,0.33)(0.17,0,0.31)(0.16,0,0.29)(0.18,0,0.29)(0.19,0,0.29)(0.2,0,0.3)(0.15,0,0.27)(0.17,0,0.27)(0.16,0,0.25)(0.21,0,0.37)(0.23,0,0.33)(0.195,0,0.38)};
\addplot3[xB,morange] coordinates {(0.241,0,0.105)(0.258,0,0.092)(0.275,0,0.092)(0.233,0,0.079)(0.183,0,0.06)(0.166,0,0.048)(0.149,0,0.028)(0.199,0,0.054)(0.174,0,0.028)(0.208,0,0.067)(0.157,0,0.041)(0.116,0,0.023)(0.074,0,0.007)(0.062,0,-0.053)(0.015,0,-0.069)(0.002,0,-0.102)(0.191,0,0.041)(0.166,0,0.015)(0.25,0,0.105)(0.175,0,0.05)(0.18,0,0.045)(0.17,0,0.04)(0.185,0,0.055)(0.165,0,0.035)(0.16,0,0.03)(0.155,0,0.025)(0.19,0,0.06)(0.25,0,0.095)(0.26,0,0.1)(0.245,0,0.085)(0.265,0,0.085)};
\addplot3[oB,mgreen] coordinates {(0.325,0,0.393)(0.342,0,0.38)(0.333,0,0.361)(0.317,0,0.355)(0.35,0,0.367)(0.3,0,0.336)(0.325,0,0.336)(0.308,0,0.323)(0.291,0,0.31)(0.275,0,0.298)(0.333,0,0.349)(0.317,0,0.317)(0.342,0,0.349)(0.308,0,0.349)(0.296,0,0.326)(0.325,0,0.375)(0.35,0,0.388)(0.283,0,0.317)(0.317,0,0.336)(0.33,0,0.37)(0.34,0,0.365)(0.335,0,0.35)(0.32,0,0.34)(0.31,0,0.33)(0.325,0,0.35)(0.315,0,0.345)(0.33,0,0.34)(0.34,0,0.37)(0.305,0,0.335)(0.295,0,0.315)(0.3,0,0.32)(0.31,0,0.315)(0.32,0,0.325)(0.285,0,0.305)(0.345,0,0.38)(0.335,0,0.38)(0.34,0,0.355)};
\addplot3[xB,red] coordinates {(0.593,0,0.44)(0.576,0,0.427)(0.559,0,0.42)(0.543,0,0.408)(0.526,0,0.377)(0.534,0,0.396)(0.568,0,0.415)(0.551,0,0.402)(0.585,0,0.427)(0.526,0,0.39)(0.58,0,0.435)(0.56,0,0.41)(0.55,0,0.415)(0.545,0,0.4)(0.535,0,0.385)(0.57,0,0.42)(0.59,0,0.43)(0.54,0,0.41)(0.447,0,0.294)(0.409,0,0.262)(0.392,0,0.243)(0.375,0,0.231)(0.367,0,0.211)(0.375,0,0.192)(0.33,0,0.174)(0.35,0,0.187)(0.384,0,0.224)(0.4,0,0.25)(0.358,0,0.232)(0.183,0,0.1)(0.395,0,0.25)(0.385,0,0.235)(0.375,0,0.22)};
\addplot3[oB,red] coordinates {(0.484,0,0.2)(0.467,0,0.164)(0.509,0,0.151)(0.551,0,0.157)(0.585,0,0.156)(0.397,0,0.075)(0.434,0,0.1)(0.459,0,0.068)(0.476,0,0.113)(0.509,0,0.112)(0.534,0,0.125)(0.568,0,0.118)(0.585,0,0.098)(0.551,0,0.085)(0.526,0,0.072)(0.492,0,0.06)(0.484,0,0.035)(0.481,0,0.009)(0.484,0,0.022)(0.509,0,0.085)(0.551,0,0.059)(0.576,0,0.084)(0.534,0,0.098)(0.492,0,0.196)(0.518,0,0.099)(0.543,0,0.111)(0.56,0,0.098)(0.509,0,0.06)(0.568,0,0.098)(0.194,0,-0.172)(0.52,0,0.1)(0.53,0,0.11)(0.54,0,0.09)(0.55,0,0.1)(0.56,0,0.11)(0.57,0,0.105)(0.53,0,0.08)(0.52,0,0.085)(0.515,0,0.07)(0.5,0,0.06)(0.495,0,0.045)(0.5,0,0.03)(0.49,0,0.04)(0.545,0,0.075)(0.535,0,0.135)(0.55,0,0.125)(0.56,0,0.135)(0.58,0,0.12)(0.51,0,0.13)(0.52,0,0.06)(0.59,0,0.11)(0.47,0,0.095)(0.505,0,0.105)};
\end{axis}
% ---------- bottom right
\begin{axis}[m3d,at={(682.35pt,254pt)},anchor=origin,
 y dir=reverse,x={(47.2pt,1.15pt)},y={(-5.85pt,4pt)},z={(0pt,22.5pt)},
 xmin=-2,xmax=4,ymin=-5,ymax=5,zmin=-8,zmax=2,
 xtick={-2,0,2,4},ytick={-5,0,5},ztick={-8,-6,-4,-2,0,2},
 xticklabel style={xshift=6.5pt,yshift=-8pt},yticklabel style={xshift=-9.5pt,yshift=-3.5pt},zticklabel style={xshift=-8pt,yshift=1pt},
 xlabel={Dim. 3},ylabel={Dim. 1},zlabel={Dim. 5},
 x label style={at={(axis cs:1.63,0,-10.85)}},
 y label style={at={(axis cs:-3.524,0,-10.22)}},
 z label style={at={(axis cs:-3.666,0,-2.29)}},
 legend style={at={(axis cs:0.537,0,-6.08)}}]
\addplot3[ax] coordinates {(-2,-5,-8)(-2,-5,2)};
\addplot3[ax] coordinates {(-2,-5,-8)(-2,-6.15,-8)(nan,nan,nan)(-2,-5,-6)(-2,-6.15,-6)(nan,nan,nan)(-2,-5,-4)(-2,-6.15,-4)(nan,nan,nan)(-2,-5,-2)(-2,-6.15,-2)(nan,nan,nan)(-2,-5,0)(-2,-6.15,0)(nan,nan,nan)(-2,-5,2)(-2,-6.15,2)};
\addplot3[oB,black] coordinates {(-1,0,-0.25)(-1,0,-0.17)(-1,0,-0.09)(-0.95,0,-0.3)(-0.95,0,-0.22)(-0.95,0,-0.14)(-0.95,0,-0.06)(-0.9,0,-0.33)(-0.9,0,-0.25)(-0.9,0,-0.17)(-0.9,0,-0.09)(-0.9,0,-0.01)(-0.85,0,-0.33)(-0.85,0,-0.25)(-0.85,0,-0.17)(-0.85,0,-0.09)(-0.85,0,0)(-0.8,0,-0.28)(-0.8,0,-0.2)(-0.8,0,-0.12)(-0.8,0,-0.04)(-0.79,0,0.08)(-0.76,0,-0.2)(-0.76,0,-0.1)(-0.76,0,0)};
\addplot3[oB,mcyan] coordinates {(-0.18,0,0.54)(-0.05,0,0.6)(0.02,0,0.71)(0.09,0,0.68)(0.16,0,0.7)(0.23,0,0.63)(0.3,0,0.62)(-0.08,0,0.49)(0.02,0,0.49)(0.13,0,0.48)(0.23,0,0.48)(-0.01,0,0.64)(0.09,0,0.56)(0.16,0,0.41)(0.06,0,0.38)(0.3,0,0.52)(0.05,0,0.6)(0.18,0,0.55)(0,0,0.55)(0.03,0,0.5)(0.07,0,0.5)(0.1,0,0.58)(0.12,0,0.55)(0.15,0,0.6)(0.17,0,0.52)(0.2,0,0.55)(0.2,0,0.62)(0.25,0,0.55)(-0.05,0,0.52)(0.05,0,0.45)(0.1,0,0.42)(0.12,0,0.62)(0.28,0,0.58)(0.14,0,0.46)};
\addplot3[xB,mcyan] coordinates {(0.06,0,0.26)(0.13,0,0.11)(0.09,0,0)(0.16,0,-0.07)(0.2,0,0.18)(0.02,0,0.19)(0.13,0,0.26)(0.23,0,0.33)(0.08,0,0.15)(0.1,0,0.2)(0.12,0,0.05)(0.14,0,0.15)(0.11,0,0.1)(0.17,0,0.25)};
\addplot3[oB,morange] coordinates {(0.81,0,0.94)(0.62,0,0.9)(0.55,0,0.68)(0.48,0,0.51)(0.59,0,0.46)(0.69,0,0.53)(0.8,0,0.6)(0.87,0,0.52)(0.76,0,0.79)(0.66,0,0.75)(0.55,0,0.31)(0.66,0,0.23)(0.76,0,0.15)(0.81,0,0.05)(0.71,0,0.67)(0.44,0,0.54)(0.87,0,0.67)(0.62,0,0.6)(0.73,0,0.38)(0.58,0,0.6)(0.62,0,0.52)(0.66,0,0.45)(0.7,0,0.6)(0.72,0,0.45)(0.75,0,0.5)(0.78,0,0.45)(0.82,0,0.55)(0.52,0,0.55)(0.55,0,0.45)(0.6,0,0.38)(0.65,0,0.35)(0.7,0,0.3)(0.75,0,0.35)(0.65,0,0.6)(0.55,0,0.5)(0.8,0,0.7)(0.68,0,0.55)};
\addplot3[xB,morange] coordinates {(1.05,0,0.47)(1.12,0,0.43)(0.94,0,0.55)(1.01,0,0.36)(1.15,0,0.5)(0.36,0,0.22)(0.36,0,-1.23)(0.55,0,-1.07)(0.97,0,0.44)(1.08,0,0.58)};
\addplot3[xB,red] coordinates {(1.45,0,0.67)(0.89,0,0.44)};
\addplot3[oB,mgreen] coordinates {(2.6,0,-0.64)(2.82,0,-0.65)(2.63,0,-1.35)(2.69,0,-1.47)(2.7,0,-0.94)(2.85,0,-0.92)(2.99,0,-0.85)(3.09,0,-0.81)(3.23,0,-0.91)(2.95,0,-1.07)(3.09,0,-1.15)(3.2,0,-1.23)(3.34,0,-1.31)(2.81,0,-1.14)(2.92,0,-1.29)(3.06,0,-1.37)(3.27,0,-1.09)(3.41,0,-1.17)(2.99,0,-1.15)(2.88,0,-0.99)(3.16,0,-1)(3.48,0,-1.39)(3.31,0,-1.16)(3.13,0,-1.3)(3.02,0,-1)(3.23,0,-1.5)(3.38,0,-1.02)(2.85,0,-1.14)(3.09,0,-1)(3.2,0,-1.08)(3.27,0,-1.32)(2.95,0,-1.3)(2.78,0,-0.95)(2.78,0,-1.1)(2.78,0,-1.25)(2.85,0,-1.03)(2.85,0,-1.3)(2.92,0,-0.95)(2.92,0,-1.1)(2.92,0,-1.2)(2.99,0,-1.02)(2.99,0,-1.3)(3.05,0,-0.92)(3.05,0,-1.1)(3.05,0,-1.25)(3.12,0,-1)(3.12,0,-1.15)(3.12,0,-1.4)(3.18,0,-0.95)(3.18,0,-1.15)(3.18,0,-1.35)(3.25,0,-1)(3.25,0,-1.2)(3.25,0,-1.42)(3.32,0,-1.05)(3.32,0,-1.22)(3.32,0,-1.42)(3.4,0,-1.1)(3.4,0,-1.28)(3.46,0,-1.25)(2.7,0,-1.1)(2.72,0,-1.2)(3.15,0,-1.25)(3.02,0,-1.18)};
\addplot3[xB,mgreen] coordinates {(3.59,0,-1.03)(3.62,0,-1.18)(3.52,0,-0.95)(3.45,0,-1.32)(3.34,0,-1.68)(3.48,0,-1.69)(3.2,0,-1.53)(3.38,0,-1.46)(3.55,0,-1.25)(3.09,0,-1.45)(3.27,0,-1.75)(3.25,0,-1.6)(3.3,0,-1.55)(3.4,0,-1.6)(3.5,0,-1.45)(3.55,0,-1.1)(3.45,0,-1.1)(3.15,0,-1.6)(3.35,0,-1.4)(3.4,0,-1.25)(3.5,0,-1.2)};
\addplot3[oB,red] coordinates {(1.42,0,-1.48)(1.26,0,-1.87)(1.36,0,-1.88)(1.5,0,-1.74)(1.57,0,-1.89)(1.33,0,-2.17)(1.43,0,-2.03)(1.54,0,-2.11)(1.26,0,-2.24)(1.33,0,-2.4)(1.43,0,-2.47)(1.54,0,-2.4)(1.47,0,-2.25)(1.4,0,-2.25)(1.36,0,-2.03)(1.61,0,-2.19)(1.48,0,-3.05)(1.5,0,-1.96)(1.29,0,-2.02)(1.57,0,-2.33)(1.36,0,-2.54)(1.47,0,-2.62)(1.26,0,-2.05)(1.63,0,-2.04)(1.3,0,-1.95)(1.35,0,-2.1)(1.4,0,-1.95)(1.45,0,-1.9)(1.5,0,-2.05)(1.55,0,-2)(1.3,0,-2.1)(1.35,0,-2.25)(1.4,0,-2.1)(1.45,0,-2.15)(1.5,0,-2.2)(1.55,0,-2.25)(1.3,0,-2.3)(1.4,0,-2.35)(1.5,0,-2.35)(1.45,0,-2.45)(1.38,0,-2.45)(1.42,0,-1.75)(1.48,0,-1.85)(1.52,0,-2.5)(1.35,0,-1.75)(1.6,0,-2.05)};
\addplot3[xB,red] coordinates {(1.72,0,-1.97)(1.65,0,-1.89)(1.68,0,-2.26)(1.61,0,-2.33)(1.57,0,-2.48)(1.65,0,-2.11)(1.5,0,-2.1)(1.4,0,-2.2)(1.55,0,-2.3)(1.45,0,-2)(1.6,0,-2.2)(1.35,0,-2)(1.42,0,-2.4)(1.55,0,-1.95)};
\addplot3[oB,blue] coordinates {(0.43,0,-2.98)(0.53,0,-3.17)(0.52,0,-3.43)(0.62,0,-3.25)(0.69,0,-3.62)(0.66,0,-3.91)(0.76,0,-3.77)(0.87,0,-3.56)(0.94,0,-3.41)(0.78,0,-4.63)(1.17,0,-3.72)(1.19,0,-4.09)(1.29,0,-4.54)(1.4,0,-4.69)(1.52,0,-4.95)(1.48,0,-5.34)(1.7,0,-5.6)(1.36,0,-5.76)(1.36,0,-5.95)(1.24,0,-4.88)(1.12,0,-5.12)(1.06,0,-4.97)(1.01,0,-4.67)(0.87,0,-4.22)(0.97,0,-4.08)(1.08,0,-3.94)(0.8,0,-4.07)(1.08,0,-4.38)(0.9,0,-4.52)(0.69,0,-4.07)(1.15,0,-4.53)(1.01,0,-3.86)(0.87,0,-3.85)(0.94,0,-4.3)(1.05,0,-4.23)(1.12,0,-4.09)(1.15,0,-4.24)(0.97,0,-4.45)(0.87,0,-4)(0.7,0,-3.7)(0.75,0,-3.95)(0.8,0,-3.85)(0.85,0,-3.7)(0.9,0,-3.9)(0.95,0,-3.7)(1,0,-4)(1.1,0,-4.1)(0.75,0,-3.6)(0.82,0,-4.3)(0.88,0,-4.4)(0.93,0,-4.15)(0.98,0,-4.55)(1.03,0,-4.35)(1.1,0,-4.5)(1.14,0,-4.4)(1.03,0,-4.8)(0.95,0,-4.65)(1,0,-3.75)(1.1,0,-3.8)(1.05,0,-4.05)};
\addplot3[xB,blue] coordinates {(0.94,0,-3.26)(1.01,0,-4.23)(0.94,0,-3.93)(1.05,0,-4.08)(0.97,0,-4.23)(0.87,0,-4.37)(1.08,0,-3.86)(0.94,0,-4.52)(1.05,0,-4.68)(1.12,0,-4.31)(0.83,0,-4.07)(1.01,0,-3.79)(0.97,0,-4.82)(1.08,0,-6.01)(1.15,0,-6.09)(0.9,0,-4.22)(1.01,0,-4.45)(1.08,0,-4.97)(0.9,0,-4)(0.95,0,-4.1)(1,0,-4.05)(1,0,-4.3)(1.05,0,-4.3)(0.95,0,-4.4)(0.9,0,-4.4)(0.85,0,-4.2)(1.1,0,-4.1)(1.1,0,-4.4)(1,0,-4.6)(1.05,0,-3.95)(0.92,0,-3.8)(1.02,0,-3.7)(1.15,0,-4)};
\addlegendimage{only marks,mark=o,mark size=5.5pt,line width=0.9pt,black}
\addlegendimage{only marks,mark=x,mark size=6.3pt,line width=0.9pt,black}
\legend{RGB domain,FCIR domain}
\end{axis}
\end{tikzpicture}
\end{document}
